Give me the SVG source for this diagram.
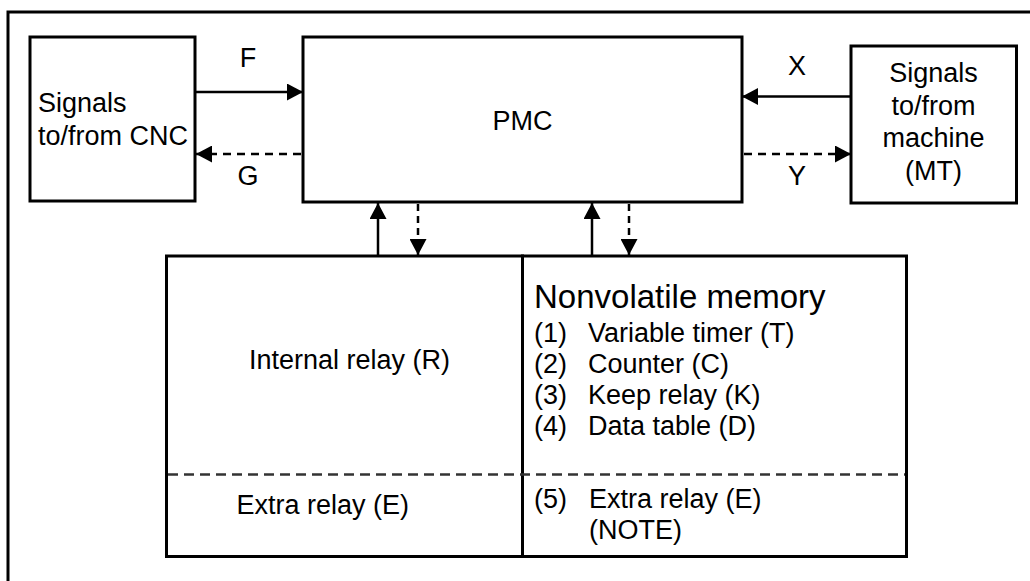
<svg xmlns="http://www.w3.org/2000/svg" width="1030" height="581" viewBox="0 0 1030 581">
<style>
.box{fill:#fff;stroke:#000;stroke-width:3}
.t{font-family:"Liberation Sans",Arial,sans-serif;font-size:27px;fill:#000}
.c{text-anchor:middle}
.ln{stroke:#000;stroke-width:2.5;fill:none}
.ds{stroke-dasharray:8 6}
.sep{stroke:#333;stroke-width:2.5;stroke-dasharray:10 6;fill:none}
</style>
<defs>
<marker id="ah" markerUnits="userSpaceOnUse" markerWidth="17" markerHeight="17" refX="16" refY="8.5" orient="auto" viewBox="0 0 17 17">
<path d="M0,0 L16,8.5 L0,17 z" fill="#000"/>
</marker>
</defs>
<rect x="0" y="0" width="1030" height="581" fill="#fff"/>
<g id="frame"><path d="M8,600 V12 H1040" fill="none" stroke="#000" stroke-width="3"/></g>
<g id="cnc">
<rect class="box" x="30" y="37" width="165" height="164"/>
<text class="t" x="38" y="112">Signals</text>
<text class="t" x="38" y="145">to/from CNC</text>
</g>
<g id="pmc">
<rect class="box" x="303" y="37" width="439" height="165"/>
<text class="t c" x="522.5" y="130">PMC</text>
</g>
<g id="machine">
<rect class="box" x="851" y="46" width="165.5" height="157"/>
<text class="t c" x="933.5" y="82">Signals</text>
<text class="t c" x="933.5" y="115">to/from</text>
<text class="t c" x="933.5" y="147">machine</text>
<text class="t c" x="933.5" y="180">(MT)</text>
</g>
<g id="relay">
<rect class="box" x="166.5" y="256" width="356" height="300.5"/>
<text class="t c" x="349.5" y="369">Internal relay (R)</text>
<text class="t" x="236.5" y="514">Extra relay (E)</text>
</g>
<g id="nvmem">
<rect class="box" x="522.5" y="256" width="384" height="300.5"/>
<text class="t" x="534" y="308" style="font-size:33px">Nonvolatile memory</text>
<text class="t" x="534" y="342">(1)</text><text class="t" x="588" y="342">Variable timer (T)</text>
<text class="t" x="534" y="373">(2)</text><text class="t" x="588" y="373">Counter (C)</text>
<text class="t" x="534" y="404">(3)</text><text class="t" x="588" y="404">Keep relay (K)</text>
<text class="t" x="534" y="435">(4)</text><text class="t" x="588" y="435">Data table (D)</text>
<text class="t" x="534" y="508">(5)</text><text class="t" x="589" y="508">Extra relay (E)</text>
<text class="t" x="589" y="539">(NOTE)</text>
</g>
<g id="sep"><line class="sep" x1="168" y1="474.5" x2="905" y2="474.5"/></g>
<g id="connectors">
<line class="ln" x1="195" y1="92" x2="303" y2="92" marker-end="url(#ah)"/>
<line class="ln ds" x1="301" y1="154" x2="196" y2="154" marker-end="url(#ah)"/>
<line class="ln" x1="851" y1="96.5" x2="742" y2="96.5" marker-end="url(#ah)"/>
<line class="ln ds" x1="744" y1="154" x2="851" y2="154" marker-end="url(#ah)"/>
<line class="ln" x1="378" y1="255" x2="378" y2="203" marker-end="url(#ah)"/>
<line class="ln ds" x1="418" y1="204" x2="418" y2="255" marker-end="url(#ah)" style="stroke-dasharray:7 5"/>
<line class="ln" x1="592" y1="255" x2="592" y2="203" marker-end="url(#ah)"/>
<line class="ln ds" x1="629" y1="204" x2="629" y2="255" marker-end="url(#ah)" style="stroke-dasharray:7 5"/>
<text class="t c" x="248" y="67">F</text>
<text class="t c" x="248" y="185">G</text>
<text class="t c" x="797" y="75">X</text>
<text class="t c" x="797" y="185">Y</text>
</g>
</svg>
